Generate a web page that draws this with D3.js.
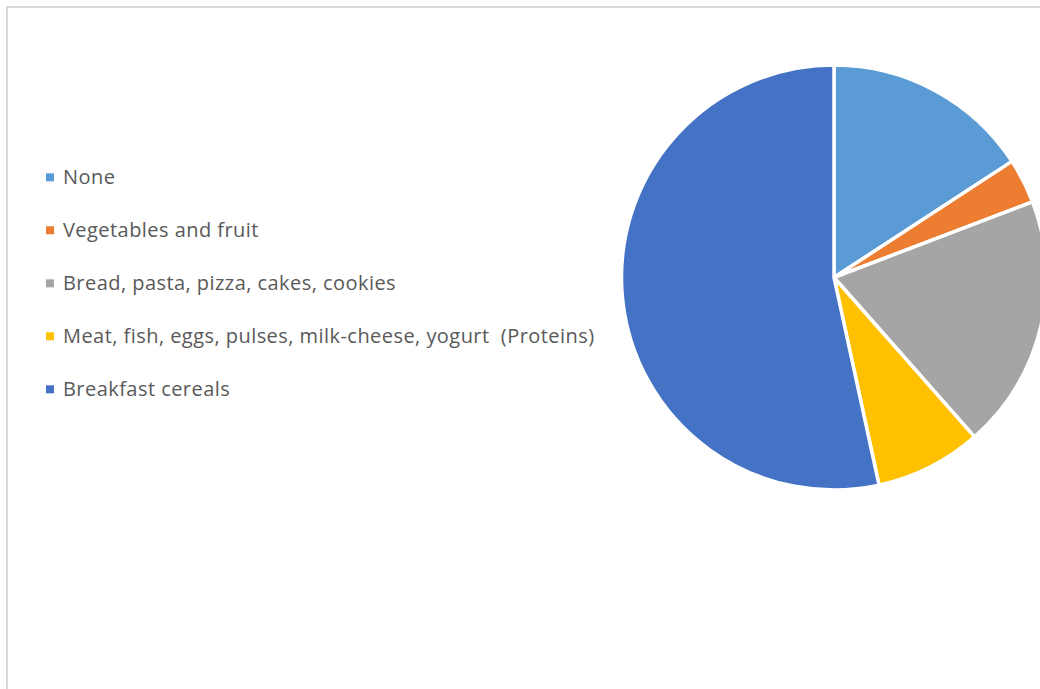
<!DOCTYPE html>
<html>
<head>
<meta charset="utf-8">
<script src="https://cdn.jsdelivr.net/npm/d3@7"></script>
<style>
  html, body { margin: 0; padding: 0; background: #fff; overflow: hidden; }
  svg { display: block; }
  .legend-label { white-space: pre; }
</style>
</head>
<body>
<svg id="chart" width="1040" height="689"></svg>
<script>
// Breakfast food groups (share of respondents, %)
const categories = [
  "None",
  "Vegetables and fruit",
  "Bread, pasta, pizza, cakes, cookies",
  "Meat, fish, eggs, pulses, milk-cheese, yogurt  (Proteins)",
  "Breakfast cereals"
];
const values = [15.8, 3.4, 19.3, 8.1, 53.4];
const colors = ["#5B9BD5", "#ED7D31", "#A5A5A5", "#FFC000", "#4472C4"];

const svg = d3.select("#chart");
const W = 1040, H = 689;

// chart area frame
svg.append("rect")
  .attr("x", 7).attr("y", 7)
  .attr("width", W + 20).attr("height", H + 20)
  .attr("fill", "#fff")
  .attr("stroke", "#d9d9d9")
  .attr("stroke-width", 2);

// pie
const cx = 834, cy = 277.5, r = 212.5;
const pie = d3.pie().sort(null).value(d => d.value);
const arc = d3.arc().innerRadius(0).outerRadius(r);
const color = d3.scaleOrdinal().domain(categories).range(colors);
const data = categories.map((c, i) => ({ name: c, value: values[i] }));

svg.append("g")
  .attr("transform", `translate(${cx},${cy})`)
  .selectAll("path")
  .data(pie(data))
  .join("path")
  .attr("d", arc)
  .attr("fill", d => color(d.data.name))
  .attr("stroke", "#fff")
  .attr("stroke-width", 3.5)
  .attr("stroke-linejoin", "round");

// legend
const legendY = d3.scalePoint().domain(categories).range([177.3, 389.3]);
const legend = svg.append("g")
  .selectAll("g")
  .data(categories)
  .join("g")
  .attr("transform", d => `translate(0,${legendY(d)})`);

legend.append("rect")
  .attr("x", 46).attr("y", -4)
  .attr("width", 8).attr("height", 8)
  .attr("fill", d => color(d));

legend.append("text")
  .attr("class", "legend-label")
  .attr("x", 63).attr("y", 0)
  .attr("dy", "0.35em")
  .attr("font-family", "'Open Sans', sans-serif")
  .attr("font-size", 20)
  .attr("letter-spacing", 0.45)
  .attr("fill", "#595959")
  .text(d => d);
</script>
</body>
</html>
